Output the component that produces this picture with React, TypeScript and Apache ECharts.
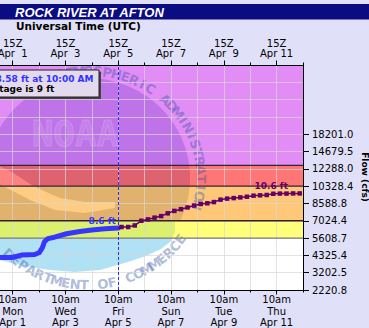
import React, { useEffect, useRef } from "react";
import * as echarts from "echarts";

const W = 369;
const H = 328;

const stationTitle = "ROCK RIVER AT AFTON";
const timeAxisTitle = "Universal Time (UTC)";
const flowAxisTitle = "Flow (cfs)";
const latestObsText = "Latest observed value: 8.58 ft at 10:00 AM";
const floodStageText = "Flood Stage is 9 ft";
const obsLabel = "8.6 ft";
const crestLabel = "10.6 ft";

const originIso = "2024-04-01T15:00:00Z";
const nowIso = "2024-04-05T15:00:00Z";
const xMinHours = -24;
const xMaxHours = 264;
const dayHours = 24;
const majorTickHours = [0, 48, 96, 144, 192, 240];

const obsTimes = [
  "2024-03-31T15:00Z", "2024-04-01T03:00Z", "2024-04-01T14:00Z", "2024-04-01T19:00Z",
  "2024-04-01T23:00Z", "2024-04-02T11:00Z", "2024-04-02T15:00Z", "2024-04-02T18:00Z",
  "2024-04-02T20:00Z", "2024-04-02T23:00Z", "2024-04-03T05:00Z", "2024-04-03T16:00Z",
  "2024-04-04T04:00Z", "2024-04-04T15:00Z", "2024-04-05T03:00Z", "2024-04-05T15:00Z",
];
const obsStages = [6.87, 6.88, 6.88, 6.95, 7.02, 7.05, 7.15, 7.45, 7.8, 7.97, 8.05, 8.25, 8.38, 8.47, 8.54, 8.58];

const fcstTimes = [
  "2024-04-05T18:00Z", "2024-04-06T00:00Z", "2024-04-06T06:00Z", "2024-04-06T12:00Z",
  "2024-04-06T18:00Z", "2024-04-07T00:00Z", "2024-04-07T06:00Z", "2024-04-07T12:00Z",
  "2024-04-07T18:00Z", "2024-04-08T00:00Z", "2024-04-08T06:00Z", "2024-04-08T12:00Z",
  "2024-04-08T18:00Z", "2024-04-09T00:00Z", "2024-04-09T06:00Z", "2024-04-09T12:00Z",
  "2024-04-09T18:00Z", "2024-04-10T00:00Z", "2024-04-10T06:00Z", "2024-04-10T12:00Z",
  "2024-04-10T18:00Z", "2024-04-11T00:00Z", "2024-04-11T06:00Z", "2024-04-11T12:00Z",
  "2024-04-11T18:00Z", "2024-04-12T00:00Z", "2024-04-12T06:00Z", "2024-04-12T12:00Z",
];
const fcstStages = [
  8.64, 8.64, 8.73, 9.0, 9.08, 9.18, 9.27, 9.43, 9.57, 9.67, 9.77, 9.88, 9.97, 10.01,
  10.08, 10.22, 10.28, 10.31, 10.35, 10.39, 10.45, 10.47, 10.49, 10.56, 10.57, 10.57, 10.58, 10.58,
];
const crestIndex = 23;

const stageMin = 5;
const stageMax = 18;
const flowTickStages = [5, 6, 7, 8, 9, 10, 11, 12, 13, 14];
const flowTickLabels = [
  "2220.8", "3202.5", "4325.4", "5608.7", "7024.4", "8588.8", "10328.4", "12288.0", "14679.5", "18201.0",
];

const actionStage = 8;
const floodStage = 9;
const moderateStage = 11;
const majorStage = 12.2;
const bandLows = [stageMin, actionStage, floodStage, moderateStage, majorStage];
const bandHighs = [actionStage, floodStage, moderateStage, majorStage, stageMax];
const bandColors = ["#ffffff", "#ffff7a", "#ffc878", "#ff7676", "#e28cf6"];
const skyColors = ["#d7e3f0", "#e0e098", "#e0b26e", "#de626f", "#be74e8"];
const seaColors = ["#b0e1f4", "#dcf070", "#e0c080", "#e07080", "#c080e8"];
const gullColors = ["#ffffff", "#ffff7a", "#ffcc84", "#ff8282", "#e892f6"];
const thresholdStages = [actionStage, floodStage, moderateStage, majorStage];
const thresholdColors = ["#7a7a7a", "#332222", "#332222", "#3a2233"];

const FONT = '"DejaVu Sans", Verdana, sans-serif';
const MONTHS = ["Jan", "Feb", "Mar", "Apr", "May", "Jun", "Jul", "Aug", "Sep", "Oct", "Nov", "Dec"];
const DAYS = ["Sun", "Mon", "Tue", "Wed", "Thu", "Fri", "Sat"];

const originMs = Date.parse(originIso);
const toHours = (iso: string) => (Date.parse(iso) - originMs) / 3600000;
const dateAt = (h: number) => new Date(originMs + h * 3600000);
const isLabelDay = (h: number) => Math.round(h / dayHours) % 2 === 0;

const topLabel = (v: number) => {
  if (!isLabelDay(v)) return "";
  const d = dateAt(v);
  const day = d.getUTCDate();
  const pad = day < 10 ? "\u00a0\u00a0" : "\u00a0";
  return `15Z\n${MONTHS[d.getUTCMonth()]}${pad}${day}`;
};
const bottomLabel = (v: number) => {
  if (!isLabelDay(v)) return "";
  const d = dateAt(v);
  return `10am\n${DAYS[d.getUTCDay()]}\n${MONTHS[d.getUTCMonth()]} ${d.getUTCDate()}`;
};

type Pt = number[];
const clipEdge = (poly: Pt[], keep: (p: Pt) => boolean, yEdge: number) => {
  const out: Pt[] = [];
  for (let i = 0; i < poly.length; i++) {
    const a = poly[i];
    const b = poly[(i + 1) % poly.length];
    const ina = keep(a);
    const inb = keep(b);
    if (ina) out.push(a);
    if (ina !== inb) {
      const t = (yEdge - a[1]) / (b[1] - a[1]);
      out.push([a[0] + t * (b[0] - a[0]), yEdge]);
    }
  }
  return out;
};
const clipStrip = (poly: Pt[], y0: number, y1: number) => {
  let p = clipEdge(poly, (q) => q[1] >= y0, y0);
  if (p.length < 3) return [];
  p = clipEdge(p, (q) => q[1] <= y1, y1);
  return p.length < 3 ? [] : p;
};
const ellipsePts = (cx: number, cy: number, rx: number, ry: number, n: number) =>
  Array.from({ length: n }, (_, k) => {
    const a = (2 * Math.PI * k) / n;
    return [cx + rx * Math.cos(a), cy + ry * Math.sin(a)];
  });

// watermark (NOAA emblem) geometry, in page pixels
const seaOutline: Pt[] = [
  [-30, 200], [175, 200], [175, 232], [171, 241], [161, 249], [146, 256], [128, 262], [100, 270],
  [75, 272], [50, 270], [25, 266], [0, 260], [-30, 252],
];
const gullOutline: Pt[] = [
  [-15, 160], [10, 171], [35, 187], [60, 198], [85, 202], [115, 202],
  [115, 208], [85, 213], [55, 210], [30, 200], [5, 187], [-15, 177],
];
const ringTop = "ATMOSPHERIC ADMINISTRATION";
const ringBottom = "DEPARTMENT OF COMMERCE";

function watermarkItem(params: any, api: any) {
  const children: any[] = [];
  const seaTop = api.coord([0, floodStage])[1];
  const sky = clipStrip(ellipsePts(88, 178, 102, 100, 120), -1000, seaTop);
  const sea = clipStrip(seaOutline, seaTop, 1000);
  const gull = clipStrip(gullOutline, -1000, seaTop);
  bandLows.forEach((lo, i) => {
    const yb = api.coord([0, lo])[1];
    const yt = api.coord([0, bandHighs[i]])[1];
    const parts: [Pt[], string][] = [
      [sky, skyColors[i]],
      [sea, seaColors[i]],
      [gull, gullColors[i]],
    ];
    parts.forEach(([poly, color]) => {
      if (!poly.length) return;
      const c = clipStrip(poly, yt, yb);
      if (c.length) children.push({ type: "polygon", shape: { points: c }, style: { fill: color } });
    });
  });
  children.push({
    type: "text",
    x: 75,
    y: 133,
    style: {
      text: "NOAA",
      font: 'bold 36px "DejaVu Sans Mono", monospace',
      fill: "rgba(255,255,255,0.1)",
      stroke: "rgba(255,255,255,0.16)",
      lineWidth: 1,
      align: "center",
      verticalAlign: "middle",
    },
  });
  const rcx = 88, rcy = 178, rrx = 113, rry = 107;
  const addRing = (text: string, startDeg: number, stepDeg: number, top: boolean) => {
    [...text].forEach((ch, k) => {
      if (ch === " ") return;
      const phi = ((startDeg + stepDeg * k) * Math.PI) / 180;
      const x = rcx + rrx * Math.cos(phi);
      const y = rcy + rry * Math.sin(phi);
      const tx = -rrx * Math.sin(phi);
      const ty = rry * Math.cos(phi);
      const rot = top ? Math.atan2(-ty, tx) : Math.atan2(ty, -tx);
      children.push({
        type: "text",
        x,
        y,
        rotation: rot,
        style: {
          text: ch,
          font: `bold 13px ${FONT}`,
          fill: "rgba(45,80,165,0.4)",
          align: "center",
          verticalAlign: "middle",
        },
      });
    });
  };
  addRing(ringTop, -104, 4.75, true);
  addRing(ringBottom, 134.5, -4.74, false);
  return { type: "group", children };
}

export default function App() {
  const ref = useRef<HTMLDivElement>(null);
  useEffect(() => {
    const el = ref.current;
    if (!el) return;
    const chart = echarts.init(el, null, { renderer: "svg" });

    const gridLine = { show: true, lineStyle: { color: "rgba(215,215,215,0.7)", width: 1 } };
    const baseX = {
      type: "value",
      min: xMinHours,
      max: xMaxHours,
      interval: dayHours,
      z: 3,
    };

    const obsData: any[] = obsTimes.map((t, i) => [toHours(t), obsStages[i]]);
    const last = obsData.length - 1;
    obsData[last] = {
      value: obsData[last],
      symbol: "circle",
      symbolSize: 1,
      label: {
        show: true,
        formatter: obsLabel,
        position: "top",
        distance: 2,
        offset: [-16, 0],
        color: "#3535ff",
        fontWeight: "bold",
        fontSize: 9,
        fontFamily: FONT,
      },
    };

    const fcstData: any[] = [
      { value: [toHours(obsTimes[last]), obsStages[last]], symbol: "none" },
      ...fcstTimes.map((t, i) => [toHours(t), fcstStages[i]]),
    ];
    const ci = crestIndex + 1;
    fcstData[ci] = {
      value: fcstData[ci],
      label: {
        show: true,
        formatter: crestLabel,
        position: "top",
        distance: 1,
        offset: [-2, 0],
        color: "#660066",
        fontWeight: "bold",
        fontSize: 9,
        fontFamily: FONT,
      },
    };

    const option: any = {
      animation: false,
      backgroundColor: "#e0e0f8",
      grid: {
        left: -13.7,
        right: W - 303,
        top: 65,
        bottom: H - 290,
        containLabel: false,
        outerBoundsMode: "none",
      },
      xAxis: [
        {
          ...baseX,
          position: "bottom",
          axisLine: { show: true, onZero: false, lineStyle: { color: "#000", width: 1 } },
          axisTick: { show: true, length: 2.5, lineStyle: { color: "#000" } },
          axisLabel: { formatter: bottomLabel, fontSize: 10, fontFamily: FONT, color: "#000", lineHeight: 11.5, margin: 4 },
          splitLine: gridLine,
        },
        {
          ...baseX,
          position: "top",
          axisLine: { show: true, onZero: false, lineStyle: { color: "#000", width: 1 } },
          axisTick: { show: true, length: 2.5, lineStyle: { color: "#000" } },
          axisLabel: { formatter: topLabel, fontSize: 10, fontFamily: FONT, color: "#000", lineHeight: 10, margin: 7 },
          splitLine: { show: false },
        },
        {
          ...baseX,
          position: "bottom",
          axisLine: { show: false, onZero: false },
          axisTick: { show: true, length: 4.5, customValues: majorTickHours, lineStyle: { color: "#000" } },
          axisLabel: { show: false },
          splitLine: { show: false },
        },
        {
          ...baseX,
          position: "top",
          axisLine: { show: false, onZero: false },
          axisTick: { show: true, length: 4.5, customValues: majorTickHours, lineStyle: { color: "#000" } },
          axisLabel: { show: false },
          splitLine: { show: false },
        },
      ],
      yAxis: [
        {
          type: "value",
          position: "right",
          min: stageMin,
          max: stageMax,
          interval: 1,
          z: 3,
          axisLine: { show: true, onZero: false, lineStyle: { color: "#000", width: 1 } },
          axisTick: { show: false },
          axisLabel: {
            formatter: (v: number) => {
              const i = flowTickStages.indexOf(Math.round(v * 100) / 100);
              return i >= 0 ? flowTickLabels[i] : "";
            },
            fontSize: 10,
            fontFamily: FONT,
            color: "#000",
            margin: 9,
          },
          splitLine: gridLine,
        },
        {
          type: "value",
          position: "right",
          min: stageMin,
          max: stageMax,
          interval: 1,
          z: 3,
          axisLine: { show: false, onZero: false },
          axisTick: { show: true, length: 6, customValues: flowTickStages, lineStyle: { color: "#000" } },
          axisLabel: { show: false },
          splitLine: { show: false },
        },
      ],
      series: [
        {
          type: "custom",
          name: "bands",
          z: 1,
          silent: true,
          clip: true,
          data: bandLows.map((lo, i) => [xMinHours, lo, bandHighs[i]]),
          encode: { x: 0, y: [1, 2] },
          renderItem: (params: any, api: any) => {
            const cs = params.coordSys;
            const yb = api.coord([xMinHours, api.value(1)])[1];
            const yt = api.coord([xMinHours, api.value(2)])[1];
            return {
              type: "rect",
              shape: { x: cs.x, y: yt, width: cs.width, height: yb - yt },
              style: { fill: bandColors[params.dataIndex] },
            };
          },
        },
        {
          type: "custom",
          name: "watermark",
          z: 2,
          silent: true,
          clip: true,
          data: [[xMinHours, stageMin]],
          encode: { x: 0, y: 1 },
          renderItem: watermarkItem,
        },
        {
          type: "custom",
          name: "thresholds",
          z: 4,
          silent: true,
          clip: true,
          data: thresholdStages.map((s) => [xMinHours, s]),
          encode: { x: 0, y: 1 },
          renderItem: (params: any, api: any) => {
            const cs = params.coordSys;
            const y = api.coord([xMinHours, api.value(1)])[1];
            return {
              type: "line",
              shape: { x1: cs.x, y1: y, x2: cs.x + cs.width, y2: y },
              style: { stroke: thresholdColors[params.dataIndex], lineWidth: 1.3 },
            };
          },
        },
        {
          type: "line",
          name: "Observed",
          z: 5,
          data: obsData,
          symbol: "none",
          showSymbol: true,
          lineStyle: { color: "#3636ff", width: 5, cap: "round", join: "round" },
          itemStyle: { color: "#3636ff" },
          markLine: {
            silent: true,
            symbol: ["none", "none"],
            label: { show: false },
            lineStyle: { color: "#2a2aff", type: [3, 2], width: 1 },
            data: [{ xAxis: toHours(nowIso) }],
          },
        },
        {
          type: "line",
          name: "Forecast",
          z: 6,
          data: fcstData,
          symbol: "rect",
          symbolSize: 4.5,
          showSymbol: true,
          lineStyle: { color: "#660066", width: 1.5 },
          itemStyle: { color: "#660066" },
        },
      ],
      graphic: [
        { type: "rect", z: 30, shape: { x: 0, y: 4, width: W, height: 15.5 }, style: { fill: "#0b0b82" } },
        {
          type: "text",
          z: 31,
          x: 15,
          y: 12,
          style: {
            text: stationTitle,
            font: 'italic bold 13px "Liberation Sans", Arial, sans-serif',
            fill: "#ffffff",
            verticalAlign: "middle",
            textVerticalAlign: "middle",
          },
        },
        {
          type: "text",
          z: 31,
          x: 16,
          y: 26,
          style: {
            text: timeAxisTitle,
            font: `bold 10.5px ${FONT}`,
            fill: "#000",
            verticalAlign: "middle",
            textVerticalAlign: "middle",
          },
        },
        {
          type: "text",
          z: 31,
          x: 365,
          y: 177,
          rotation: -Math.PI / 2,
          style: {
            text: flowAxisTitle,
            font: `bold 9px ${FONT}`,
            fill: "#000",
            align: "center",
            textAlign: "center",
            verticalAlign: "middle",
            textVerticalAlign: "middle",
          },
        },
        { type: "rect", z: 40, shape: { x: -8, y: 72, width: 109, height: 27 }, style: { fill: "#444" } },
        {
          type: "rect",
          z: 41,
          shape: { x: -10, y: 70, width: 109, height: 27 },
          style: { fill: "#e4daee", stroke: "#222", lineWidth: 1 },
        },
        {
          type: "text",
          z: 42,
          x: 93.5,
          y: 79,
          style: {
            text: latestObsText,
            font: `bold 9px ${FONT}`,
            fill: "#3232ff",
            align: "right",
            textAlign: "right",
            verticalAlign: "middle",
            textVerticalAlign: "middle",
          },
        },
        {
          type: "text",
          z: 42,
          x: -38.5,
          y: 88.5,
          style: {
            text: floodStageText,
            font: `bold 9px ${FONT}`,
            fill: "#000",
            align: "left",
            textAlign: "left",
            verticalAlign: "middle",
            textVerticalAlign: "middle",
          },
        },
      ],
    };

    chart.setOption(option);
    return () => chart.dispose();
  }, []);
  return <div ref={ref} style={{ position: "fixed", left: 0, top: 0, width: W, height: H }} />;
}
